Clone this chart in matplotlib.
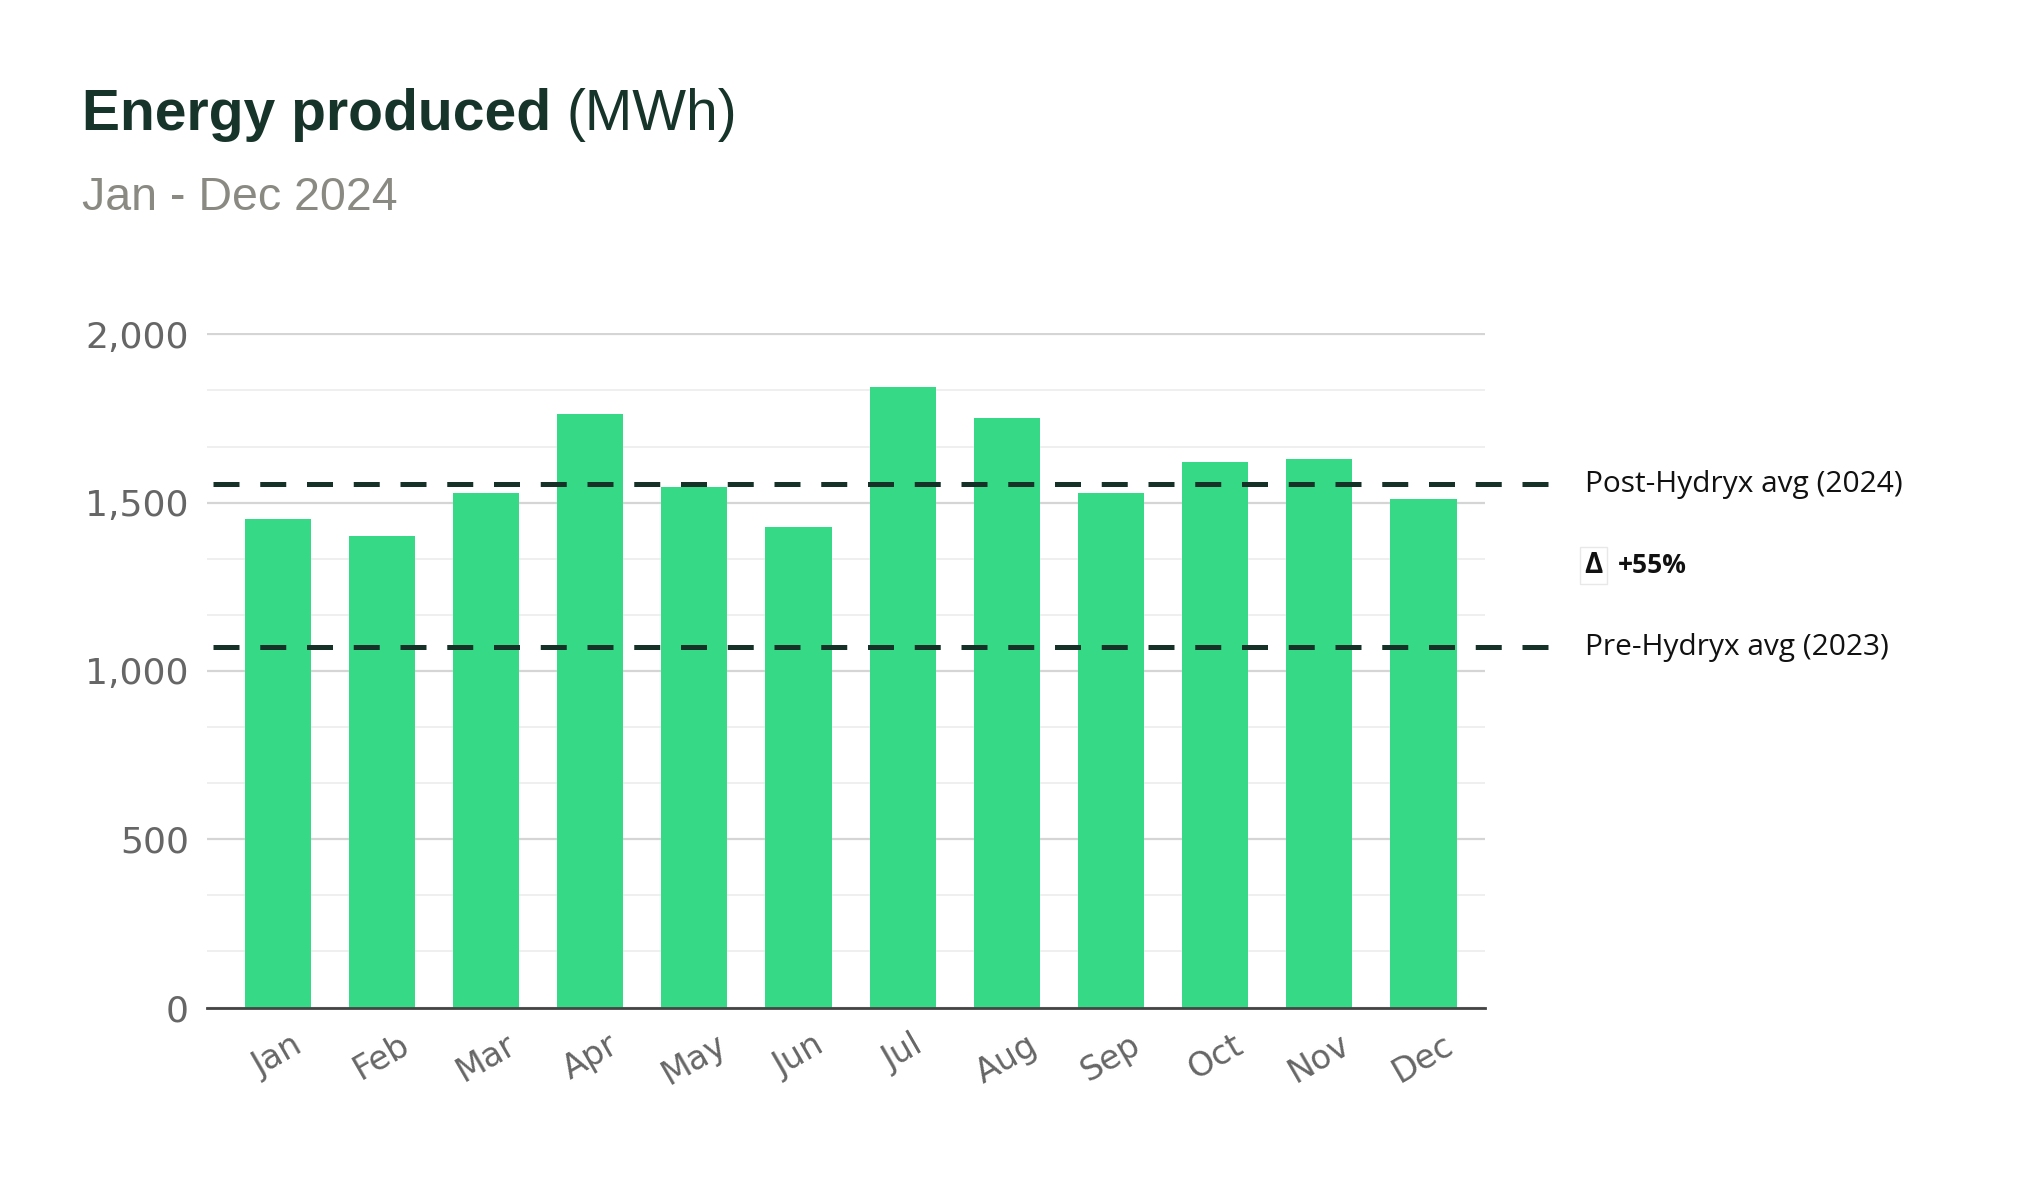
import matplotlib
matplotlib.use('Agg')  # sem janela
import matplotlib.pyplot as plt
import matplotlib.transforms as mtransforms
from matplotlib.ticker import MultipleLocator, FuncFormatter

# Dados.
meses = ['Jan', 'Feb', 'Mar', 'Apr', 'May', 'Jun',
         'Jul', 'Aug', 'Sep', 'Oct', 'Nov', 'Dec']
energia = [1450, 1402, 1530, 1762, 1548, 1429,
           1843, 1751, 1530, 1622, 1631, 1512]
media_pos = 1555  # Post-Hydryx avg (2024)
media_pre = 1070  # Pre-Hydryx avg (2023)
rotulo_pos = 'Post-Hydryx avg (2024)'
rotulo_pre = 'Pre-Hydryx avg (2023)'
rotulo_delta = '+55%'

cor_barra = '#36d986'
cor_titulo = '#17342a'
cor_tracejado = '#163228'
cor_eixo = '#666666'

fig = plt.figure(figsize=(20.33, 11.81), dpi=100)
ax = fig.add_axes([0.1018, 0.1469, 0.6286, 0.5711])

pos = list(range(len(meses)))
ax.bar(pos, energia, width=0.635, color=cor_barra, zorder=3)

ax.set_xlim(-0.68, 11.59)
ax.set_ylim(0, 2004)
ax.yaxis.set_major_locator(MultipleLocator(500))
ax.yaxis.set_minor_locator(MultipleLocator(500 / 3))
ax.yaxis.set_major_formatter(FuncFormatter(lambda v, _: f'{v:,.0f}'))
ax.grid(which='major', axis='y', color='#d5d5d5', linewidth=1.6, zorder=0)
ax.grid(which='minor', axis='y', color='#eeeeee', linewidth=1.3, zorder=0)
ax.set_axisbelow(True)

for lado in ('top', 'right', 'left'):
    ax.spines[lado].set_visible(False)
ax.spines['bottom'].set_color('#444444')
ax.spines['bottom'].set_linewidth(2)
ax.spines['bottom'].set_zorder(4)

ax.set_xticks(pos)
ax.set_xticklabels(meses, rotation=30, ha='center')
ax.tick_params(axis='both', which='both', length=0)
ax.tick_params(axis='y', labelsize=26, labelcolor=cor_eixo, pad=13)
ax.tick_params(axis='x', labelsize=24, labelcolor=cor_eixo, pad=15)

# Linhas de media tracejadas, passando do eixo.
trans = mtransforms.blended_transform_factory(ax.transAxes, ax.transData)
for media in (media_pos, media_pre):
    ax.plot([0.005, 1.051], [media, media], transform=trans,
            color=cor_tracejado, linewidth=3.6, dashes=(5.2, 4.15),
            clip_on=False, zorder=5)

fonte_nota = ['Open Sans', 'DejaVu Sans']
ax.text(1.078, media_pos, rotulo_pos, transform=trans, va='center',
        fontsize=21.5, family=fonte_nota, color='#111111')
ax.text(1.078, media_pre, rotulo_pre, transform=trans, va='center',
        fontsize=21.5, family=fonte_nota, color='#111111')
meio = (media_pos + media_pre) / 2
ax.text(1.078, meio, 'Δ', transform=trans, va='center', fontsize=20,
        fontweight='bold', family=fonte_nota, color='#111111',
        bbox=dict(boxstyle='square,pad=0.15', facecolor='white',
                  edgecolor='#e8e8e8', linewidth=1))
ax.text(1.104, meio, rotulo_delta, transform=trans, va='center',
        fontsize=19, fontweight='bold', family=fonte_nota, color='#111111')

# Titulo e subtitulo.
t1 = fig.text(0.0403, 0.890, 'Energy produced', fontsize=41, fontweight='bold',
              family='Liberation Sans', color=cor_titulo, va='baseline')
fig.canvas.draw()
caixa = t1.get_window_extent()
x_fim = (caixa.x1 + 15) / fig.bbox.width
fig.text(x_fim, 0.890, '(MWh)', fontsize=41, family='Liberation Sans',
         color=cor_titulo, va='baseline')
fig.text(0.0403, 0.822, 'Jan - Dec 2024', fontsize=33.5, family='Liberation Sans',
         color='#8a8a82', va='baseline')

fig.savefig('out.png', dpi=100, facecolor='white')
